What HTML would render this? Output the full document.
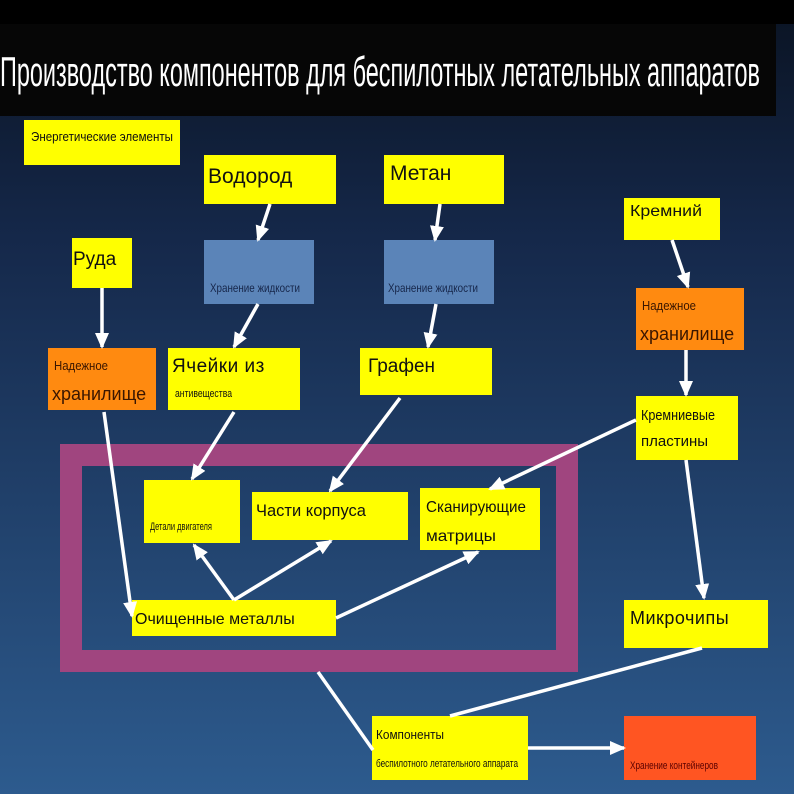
<!DOCTYPE html>
<html><head><meta charset="utf-8"><style>
html,body{margin:0;padding:0;width:794px;height:794px;overflow:hidden}
svg{display:block}
text{font-family:"Liberation Sans",sans-serif;fill:#111}
</style></head><body>
<svg width="794" height="794" viewBox="0 0 794 794" xmlns="http://www.w3.org/2000/svg">
<defs>
<linearGradient id="bg" x1="0" y1="0" x2="0" y2="1">
<stop offset="0" stop-color="#0a1322"/>
<stop offset="0.3" stop-color="#15284a"/>
<stop offset="1" stop-color="#2d5b8e"/>
</linearGradient>
<marker id="a" markerWidth="16" markerHeight="16" refX="14" refY="8" orient="auto" markerUnits="userSpaceOnUse"><path d="M0,1 L16,8 L0,15 z" fill="#fff"/></marker>
</defs>
<rect width="794" height="794" fill="url(#bg)"/>
<rect x="0" y="0" width="794" height="24" fill="#000"/>
<rect x="0" y="24" width="776" height="92" fill="#060606"/>
<text x="0" y="86" font-size="42" style="fill:#fff" textLength="760" lengthAdjust="spacingAndGlyphs">Производство компонентов для беспилотных летательных аппаратов</text>

<path d="M60,444 H578 V672 H60 Z M82,466 V650 H556 V466 Z" fill="#a0457f" fill-rule="evenodd"/>

<g fill="#ffff00">
<rect x="24" y="120" width="156" height="45"/>
<rect x="204" y="155" width="132" height="49"/>
<rect x="384" y="155" width="120" height="49"/>
<rect x="624" y="198" width="96" height="42"/>
<rect x="72" y="238" width="60" height="50"/>
<rect x="168" y="348" width="132" height="62"/>
<rect x="360" y="348" width="132" height="47"/>
<rect x="636" y="396" width="102" height="64"/>
<rect x="144" y="480" width="96" height="63"/>
<rect x="252" y="492" width="156" height="48"/>
<rect x="420" y="488" width="120" height="62"/>
<rect x="132" y="600" width="204" height="36"/>
<rect x="624" y="600" width="144" height="48"/>
<rect x="372" y="716" width="156" height="64"/>
</g>
<rect x="204" y="240" width="110" height="64" fill="#5b84b8"/>
<rect x="384" y="240" width="110" height="64" fill="#5b84b8"/>
<rect x="48" y="348" width="108" height="62" fill="#ff8a10"/>
<rect x="636" y="288" width="108" height="62" fill="#ff8a10"/>
<rect x="624" y="716" width="132" height="64" fill="#ff5522"/>

<text x="31" y="141" font-size="13" textLength="142" lengthAdjust="spacingAndGlyphs">Энергетические элементы</text>
<text x="208" y="183" font-size="21">Водород</text>
<text x="390" y="180" font-size="21">Метан</text>
<text x="630" y="216" font-size="16" textLength="72" lengthAdjust="spacingAndGlyphs">Кремний</text>
<text x="73" y="265" font-size="19">Руда</text>
<text x="210" y="292" font-size="12" style="fill:#16264a" textLength="90" lengthAdjust="spacingAndGlyphs">Хранение жидкости</text>
<text x="388" y="292" font-size="12" style="fill:#16264a" textLength="90" lengthAdjust="spacingAndGlyphs">Хранение жидкости</text>
<text x="54" y="370" font-size="13" style="fill:#3a1600" textLength="54" lengthAdjust="spacingAndGlyphs">Надежное</text>
<text x="52" y="400" font-size="18" style="fill:#3a1600">хранилище</text>
<text x="172" y="372" font-size="19" letter-spacing="0.5">Ячейки из</text>
<text x="175" y="397" font-size="11" textLength="57" lengthAdjust="spacingAndGlyphs">антивещества</text>
<text x="368" y="372" font-size="19">Графен</text>
<text x="642" y="310" font-size="13" style="fill:#3a1600" textLength="54" lengthAdjust="spacingAndGlyphs">Надежное</text>
<text x="640" y="340" font-size="18" style="fill:#3a1600">хранилище</text>
<text x="641" y="420" font-size="15" textLength="74" lengthAdjust="spacingAndGlyphs">Кремниевые</text>
<text x="641" y="446" font-size="15">пластины</text>
<text x="150" y="530" font-size="11" textLength="62" lengthAdjust="spacingAndGlyphs">Детали двигателя</text>
<text x="256" y="516" font-size="17" textLength="110" lengthAdjust="spacingAndGlyphs">Части корпуса</text>
<text x="426" y="512" font-size="16" textLength="100" lengthAdjust="spacingAndGlyphs">Сканирующие</text>
<text x="426" y="541" font-size="16" textLength="70" lengthAdjust="spacingAndGlyphs">матрицы</text>
<text x="135" y="624" font-size="16">Очищенные металлы</text>
<text x="630" y="624" font-size="18" letter-spacing="0.5">Микрочипы</text>
<text x="376" y="739" font-size="13" textLength="68" lengthAdjust="spacingAndGlyphs">Компоненты</text>
<text x="376" y="767" font-size="11" textLength="142" lengthAdjust="spacingAndGlyphs">беспилотного летательного аппарата</text>
<text x="630" y="769" font-size="11" style="fill:#5a0000" textLength="88" lengthAdjust="spacingAndGlyphs">Хранение контейнеров</text>

<g stroke="#fff" stroke-width="3.5" fill="none">
<line x1="270" y1="204" x2="258" y2="240" marker-end="url(#a)"/>
<line x1="440" y1="204" x2="435" y2="240" marker-end="url(#a)"/>
<line x1="672" y1="240" x2="688" y2="287" marker-end="url(#a)"/>
<line x1="102" y1="288" x2="102" y2="347" marker-end="url(#a)"/>
<line x1="258" y1="304" x2="234" y2="347" marker-end="url(#a)"/>
<line x1="436" y1="304" x2="428" y2="347" marker-end="url(#a)"/>
<line x1="686" y1="350" x2="686" y2="395" marker-end="url(#a)"/>
<line x1="104" y1="412" x2="132" y2="616" marker-end="url(#a)"/>
<line x1="234" y1="412" x2="192" y2="479" marker-end="url(#a)"/>
<line x1="400" y1="398" x2="330" y2="491" marker-end="url(#a)"/>
<line x1="636" y1="420" x2="490" y2="489" marker-end="url(#a)"/>
<line x1="686" y1="460" x2="704" y2="598" marker-end="url(#a)"/>
<line x1="234" y1="600" x2="194" y2="545" marker-end="url(#a)"/>
<line x1="234" y1="600" x2="331" y2="541" marker-end="url(#a)"/>
<line x1="336" y1="618" x2="478" y2="552" marker-end="url(#a)"/>
<line x1="318" y1="672" x2="373" y2="750"/>
<line x1="702" y1="648" x2="450" y2="716"/>
<line x1="528" y1="748" x2="624" y2="748" marker-end="url(#a)"/>
</g>
</svg>
</body></html>
